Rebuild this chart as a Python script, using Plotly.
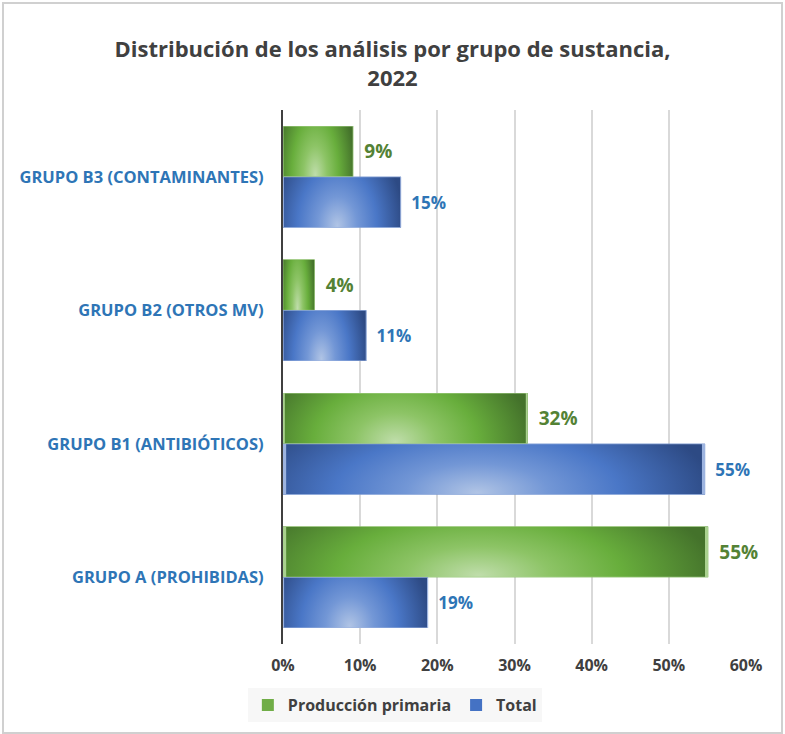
import base64
import plotly.graph_objects as go

# ---------------- data ----------------
categories = [
    "GRUPO A (PROHIBIDAS)",
    "GRUPO B1 (ANTIBIÓTICOS)",
    "GRUPO B2 (OTROS MV)",
    "GRUPO B3 (CONTAMINANTES)",
]
produccion_primaria = [0.551, 0.317, 0.041, 0.091]
total = [0.188, 0.547, 0.108, 0.153]
tick_values = [0, 0.1, 0.2, 0.3, 0.4, 0.5, 0.6]
tick_labels = ["0%", "10%", "20%", "30%", "40%", "50%", "60%"]

# ---------------- style ----------------
W, H = 785, 734
ML, MR, MT, MB = 283, 39, 110, 90
FONT = "Open Sans"
BLUE_TXT = "#2E75B6"
GREEN_TXT = "#548235"
DARK = "#404040"
BARGAP = 0.24
LABEL_PREFIX = "\u00a0\u2009"

fig = go.Figure()

fig.add_trace(go.Bar(
    name="Total", y=categories, x=total, orientation="h",
    marker=dict(color="#4472C4", line=dict(width=0)),
    texttemplate=LABEL_PREFIX + "%{x:.0%}", textposition="outside",
    textfont=dict(family=FONT, size=17, color=BLUE_TXT, weight="bold"),
    constraintext="none", cliponaxis=False, legendrank=2,
))
fig.add_trace(go.Bar(
    name="Producción primaria", y=categories, x=produccion_primaria, orientation="h",
    marker=dict(color="#70AD47", line=dict(width=0)),
    texttemplate=LABEL_PREFIX + "%{x:.0%}", textposition="outside",
    textfont=dict(family=FONT, size=19, color=GREEN_TXT, weight="bold"),
    constraintext="none", cliponaxis=False, legendrank=1,
))


def grad_uri(c0, c1, c2, c3, edge):
    svg = (
        "<svg xmlns='http://www.w3.org/2000/svg' width='100' height='100' "
        "viewBox='0 0 100 100' preserveAspectRatio='none'><defs>"
        "<radialGradient id='g' gradientUnits='userSpaceOnUse' cx='0' cy='0' r='1' "
        "gradientTransform='translate(46 96) scale(56 190)'>"
        f"<stop offset='0' stop-color='{c0}'/>"
        f"<stop offset='0.3' stop-color='{c1}'/>"
        f"<stop offset='0.6' stop-color='{c2}'/>"
        f"<stop offset='1' stop-color='{c3}'/>"
        "</radialGradient></defs>"
        "<rect x='0' y='0' width='100' height='100' fill='url(#g)' "
        f"stroke='{edge}' stroke-width='1.5' vector-effect='non-scaling-stroke'/></svg>"
    )
    return "data:image/svg+xml;base64," + base64.b64encode(svg.encode()).decode()


green_uri = grad_uri("#BFDDAA", "#8DC466", "#68AE3C", "#44722B", "#A9D18E")
blue_uri = grad_uri("#B0C4E5", "#7397D6", "#4A77C7", "#2D4A84", "#9DB4E0")

w = (1 - BARGAP) / 2
images = []
for i, cat in enumerate(categories):
    images.append(dict(source=green_uri, xref="x", yref="y", x=0, y=i + w,
                       sizex=produccion_primaria[i], sizey=w, xanchor="left",
                       yanchor="top", sizing="stretch", layer="above"))
    images.append(dict(source=blue_uri, xref="x", yref="y", x=0, y=i,
                       sizex=total[i], sizey=w, xanchor="left",
                       yanchor="top", sizing="stretch", layer="above"))

# outer border (pixel positions converted to paper coords)
pw = W - ML - MR
ph = H - MT - MB
border = dict(type="rect", xref="paper", yref="paper",
              x0=(3 - ML) / pw, x1=(782 - ML) / pw,
              y0=(H - MB - 733) / ph, y1=(H - MB - 3) / ph,
              line=dict(color="#D0D0D0", width=2), layer="below")

fig.update_layout(
    width=W, height=H,
    margin=dict(l=ML, r=MR, t=MT, b=MB),
    paper_bgcolor="white", plot_bgcolor="white",
    barmode="group", bargap=BARGAP, bargroupgap=0,
    images=images,
    shapes=[border],
    title=dict(
        text="Distribución de los análisis por grupo de sustancia,<br>2022",
        x=0.5, xref="container", xanchor="center",
        y=1 - 57 / H, yref="container", yanchor="top",
        font=dict(family=FONT, size=22, color=DARK, weight="bold"),
    ),
    font=dict(family=FONT, color=DARK),
    showlegend=True,
    legend=dict(
        orientation="h", xref="container", yref="container",
        x=0.503, xanchor="center", y=1 - 705 / H, yanchor="middle",
        bgcolor="#F7F7F7", traceorder="normal",
        font=dict(family=FONT, size=16, color=DARK, weight="bold"),
    ),
    xaxis=dict(
        range=[0, 0.6], tickvals=tick_values, ticktext=tick_labels,
        showgrid=True, gridcolor="#D9D9D9", gridwidth=1.5,
        zeroline=False, showline=False,
        ticks="outside", ticklen=7, tickcolor="rgba(0,0,0,0)",
        tickfont=dict(family=FONT, size=16, color=DARK, weight="bold"),
        fixedrange=True,
    ),
    yaxis=dict(
        categoryorder="array", categoryarray=categories,
        showline=True, linecolor="#404040", linewidth=2,
        showgrid=False, zeroline=False,
        ticks="outside", ticklen=14, tickcolor="rgba(0,0,0,0)",
        tickfont=dict(family=FONT, size=16.5, color=BLUE_TXT, weight="bold"),
        fixedrange=True,
    ),
)

fig.write_html(
    "out.html",
    config={"displayModeBar": False},
    post_script="document.body.style.margin='0';document.body.style.padding='0';",
)
